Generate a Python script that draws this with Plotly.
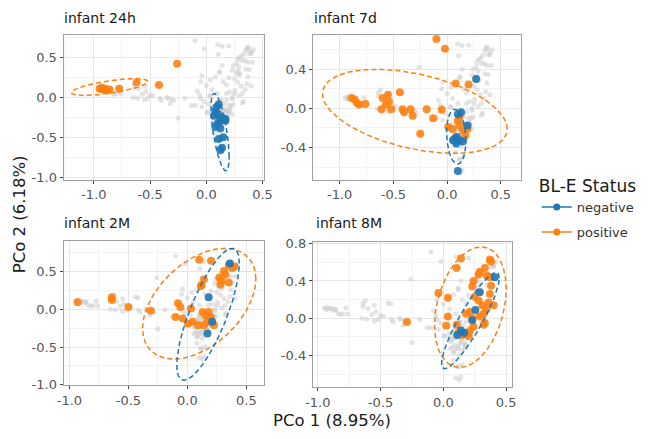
import numpy as np
import plotly.graph_objects as go

# ---------------- data ----------------
panel_names = ["infant 24h", "infant 7d", "infant 2M", "infant 8M"]

# infant 24h
neg_24h_x = [0.11, 0.08, 0.07, 0.105, 0.14, 0.17, 0.10, 0.08, 0.125, 0.11, 0.15, 0.14, 0.125, 0.17, 0.09, 0.12]
neg_24h_y = [-0.09, -0.17, -0.23, -0.21, -0.25, -0.29, -0.33, -0.37, -0.39, -0.52, -0.50, -0.63, -0.66, -0.27, -0.12, -0.30]
pos_24h_x = [-0.26, -0.42, -0.62, -0.775, -0.95, -0.92, -0.90, -0.88, -0.86, -0.93, 0.13]
pos_24h_y = [0.42, 0.155, 0.19, 0.11, 0.11, 0.10, 0.11, 0.09, 0.10, 0.12, -0.27]

# infant 7d
neg_7d_x = [0.27, 0.10, 0.13, 0.09, 0.07, 0.115, 0.085, 0.145, 0.19, 0.10, 0.055]
neg_7d_y = [0.30, -0.06, -0.04, -0.29, -0.31, -0.325, -0.36, -0.34, -0.175, -0.64, -0.325]
pos_7d_x = [-0.10, -0.02, 0.08, 0.20, -0.89, -0.86, -0.84, -0.82, -0.76, -0.60, -0.55, -0.54, -0.57, -0.61,
            -0.52, -0.44, -0.415, -0.40, -0.34, -0.32, -0.19, -0.13, -0.05, -0.25, 0.01, 0.05, 0.10, 0.115,
            0.145, 0.17, 0.19, 0.115]
pos_7d_y = [0.71, 0.61, 0.255, 0.245, 0.105, 0.09, 0.056, 0.04, 0.046, 0.105, 0.14, 0.07, 0.04, -0.01,
            -0.01, 0.165, -0.01, -0.04, -0.01, -0.075, -0.01, -0.10, -0.015, -0.26, -0.19, -0.21, -0.13, -0.175,
            -0.225, -0.275, -0.21, -0.09]

# infant 2M
neg_2m_x = [0.36, 0.18, 0.21, 0.17]
neg_2m_y = [0.61, 0.16, -0.165, -0.32]
pos_2m_x = [-0.93, -0.64, -0.64, -0.50, -0.31, -0.08, -0.06, -0.10, -0.04, 0.005, 0.045, 0.09, 0.03, 0.13,
            0.155, 0.18, 0.20, 0.17, 0.14, 0.225, 0.12, 0.14, 0.115, 0.10, 0.20, 0.27, 0.31, 0.29, 0.32,
            0.35, 0.38, 0.40, 0.28, 0.35]
pos_2m_y = [0.095, 0.16, 0.125, 0.03, -0.02, 0.08, 0.03, -0.10, -0.12, -0.19, -0.165, -0.21, 0.01, -0.035,
            -0.08, -0.035, -0.10, -0.165, -0.21, -0.21, 0.325, 0.40, 0.31, 0.66, 0.645, 0.42, 0.51, 0.38, 0.46,
            0.59, 0.55, 0.57, 0.33, 0.355]

# infant 8M
neg_8m_x = [0.41, 0.29, 0.14, 0.165, 0.23, 0.255, 0.11]
neg_8m_y = [0.44, 0.28, -0.13, -0.155, -0.02, 0.09, -0.18]
pos_8m_x = [-0.29, -0.04, 0.036, 0.106, 0.14, 0.036, 0.023, 0.106, 0.126, 0.15, 0.18, 0.20, 0.18, 0.21,
            0.23, 0.24, 0.24, 0.23, 0.25, 0.28, 0.31, 0.32, 0.29, 0.345, 0.33, 0.32, 0.29, 0.33, 0.28,
            0.345, 0.37, 0.37, 0.38, 0.38, 0.37, 0.36, 0.40, 0.21]
pos_8m_y = [-0.04, 0.27, 0.22, 0.54, 0.64, 0.02, -0.08, -0.07, -0.155, -0.18, -0.165, -0.19, 0.05, 0.07,
            0.0, -0.09, 0.40, 0.34, 0.23, 0.19, 0.14, 0.05, 0.02, 0.10, -0.05, -0.07, 0.50, 0.54, 0.47,
            0.46, 0.44, 0.63, 0.61, 0.35, 0.26, 0.17, 0.14, -0.14]

# other samples shown in grey behind every panel
extra_gray_x = [0.05, 0.10, 0.15, 0.00, -0.05, 0.25, 0.22, 0.30, 0.40, 0.42, -0.55,
                -0.48, -0.35, -0.65, -0.80, -0.02, 0.06, 0.18, 0.08, 0.12]
extra_gray_y = [0.10, 0.05, 0.20, 0.15, 0.20, 0.05, -0.10, 0.30, 0.55, 0.60, -0.03,
                0.02, 0.00, 0.00, 0.05, -0.05, -0.25, -0.30, -0.45, -0.52]

# 95% ellipse summaries (centre, half-extent x/y, correlation) per panel
ell_neg_cx = [0.122, 0.085, 0.175, 0.215]
ell_neg_cy = [-0.435, -0.29, -0.065, -0.025]
ell_neg_hx = [0.081, 0.09, 0.265, 0.23]
ell_neg_hy = [0.485, 0.28, 0.875, 0.515]
ell_neg_r = [-0.64, -0.15, 0.77, 0.89]

ell_pos_cx = [-0.86, -0.30, 0.10, 0.215]
ell_pos_cy = [0.13, -0.03, 0.075, 0.12]
ell_pos_hx = [0.34, 0.86, 0.48, 0.285]
ell_pos_hy = [0.105, 0.43, 0.735, 0.645]
ell_pos_r = [0.66, -0.42, 0.45, 0.30]

x_ticks = [-1.0, -0.5, 0.0, 0.5]
y_ticks = [[-1.0, -0.5, 0.0, 0.5], [-0.4, 0.0, 0.4], [-1.0, -0.5, 0.0, 0.5], [-0.4, 0.0, 0.4, 0.8]]

# ---------------- styling / layout ----------------
W, H = 650, 439
BLUE = "#1f77b4"
ORANGE = "#ff7f0e"
FONT = "DejaVu Sans"

# panel pixel boxes: left, right, top, bottom
boxes = [(57, 263, 30, 179), (313, 527, 30, 179), (57, 263, 242, 391), (313, 518, 243, 393)]
x_ranges = [[-1.27, 0.514], [-1.25, 0.69], [-1.05, 0.65], [-1.04, 0.55]]
y_ranges = [[-1.03, 0.78], [-0.73, 0.75], [-1.01, 0.91], [-0.74, 0.82]]
minor_y = [0.25, 0.2, 0.25, 0.2]

neg_x = [neg_24h_x, neg_7d_x, neg_2m_x, neg_8m_x]
neg_y = [neg_24h_y, neg_7d_y, neg_2m_y, neg_8m_y]
pos_x = [pos_24h_x, pos_7d_x, pos_2m_x, pos_8m_x]
pos_y = [pos_24h_y, pos_7d_y, pos_2m_y, pos_8m_y]

gray_x = sum(neg_x, []) + sum(pos_x, []) + extra_gray_x
gray_y = sum(neg_y, []) + sum(pos_y, []) + extra_gray_y


def ellipse(cx, cy, hx, hy, r, n=240):
    t = np.linspace(0, 2 * np.pi, n)
    return cx + hx * np.cos(t), cy + hy * (r * np.cos(t) + np.sqrt(1 - r * r) * np.sin(t))


def fmt(v):
    return f"{v:.1f}"


fig = go.Figure()
layout = {}
for i in range(4):
    xa = "x" if i == 0 else f"x{i + 1}"
    ya = "y" if i == 0 else f"y{i + 1}"
    xk = "xaxis" if i == 0 else f"xaxis{i + 1}"
    yk = "yaxis" if i == 0 else f"yaxis{i + 1}"
    l, r_, t, b = boxes[i]

    fig.add_trace(go.Scatter(x=gray_x, y=gray_y, mode="markers", xaxis=xa, yaxis=ya, showlegend=False,
                             marker=dict(size=5, color="rgba(205,205,205,0.55)"), hoverinfo="skip"))
    fig.add_trace(go.Scatter(x=pos_x[i], y=pos_y[i], mode="markers", xaxis=xa, yaxis=ya, showlegend=False,
                             marker=dict(size=8, color=ORANGE, opacity=0.88)))
    fig.add_trace(go.Scatter(x=neg_x[i], y=neg_y[i], mode="markers", xaxis=xa, yaxis=ya, showlegend=False,
                             marker=dict(size=8, color=BLUE, opacity=0.9)))
    ex, ey = ellipse(ell_pos_cx[i], ell_pos_cy[i], ell_pos_hx[i], ell_pos_hy[i], ell_pos_r[i])
    fig.add_trace(go.Scatter(x=ex, y=ey, mode="lines", xaxis=xa, yaxis=ya, showlegend=False,
                             line=dict(color=ORANGE, width=1.5, dash="5px,3px"), hoverinfo="skip"))
    ex, ey = ellipse(ell_neg_cx[i], ell_neg_cy[i], ell_neg_hx[i], ell_neg_hy[i], ell_neg_r[i])
    fig.add_trace(go.Scatter(x=ex, y=ey, mode="lines", xaxis=xa, yaxis=ya, showlegend=False,
                             line=dict(color=BLUE, width=1.5, dash="5px,3px"), hoverinfo="skip"))

    common = dict(showgrid=True, gridcolor="#e6e6e6", gridwidth=1, zeroline=False,
                  showline=True, mirror=True, linecolor="#a0a0a0", linewidth=1,
                  ticks="outside", ticklen=3, tickcolor="#444444",
                  tickfont=dict(family=FONT, size=13, color="#555555"))
    layout[xk] = dict(common, domain=[l / W, r_ / W], range=x_ranges[i], anchor=ya,
                      tickmode="array", tickvals=x_ticks, ticktext=[fmt(v) for v in x_ticks],
                      minor=dict(showgrid=True, gridcolor="#f3f3f3", dtick=0.25, tick0=0))
    layout[yk] = dict(common, domain=[1 - b / H, 1 - t / H], range=y_ranges[i], anchor=xa,
                      tickmode="array", tickvals=y_ticks[i], ticktext=[fmt(v) for v in y_ticks[i]],
                      minor=dict(showgrid=True, gridcolor="#f3f3f3", dtick=minor_y[i], tick0=0))

# legend-only traces
fig.add_trace(go.Scatter(x=[None], y=[None], mode="lines+markers", name="negative", legendgroup="neg",
                         line=dict(color=BLUE, width=1.5), marker=dict(size=7, color=BLUE)))
fig.add_trace(go.Scatter(x=[None], y=[None], mode="lines+markers", name="positive", legendgroup="pos",
                         line=dict(color=ORANGE, width=1.5), marker=dict(size=7, color=ORANGE)))

title_pos = [(55, 12), (312, 12), (55, 224), (314, 224)]
annotations = []
for (px, py), name in zip(title_pos, panel_names):
    annotations.append(dict(text=name, x=px / W, y=1 - py / H, xref="paper", yref="paper",
                            xanchor="left", yanchor="middle", showarrow=False,
                            font=dict(family=FONT, size=14, color="#1a1a1a")))
annotations.append(dict(text="PCo 1 (8.95%)", x=333 / W, y=1 - 427 / H, xref="paper", yref="paper",
                        xanchor="center", yanchor="middle", showarrow=False,
                        font=dict(family=FONT, size=16.5, color="#1a1a1a")))
annotations.append(dict(text="PCo 2 (6.18%)", x=12 / W, y=1 - 215 / H, xref="paper", yref="paper",
                        xanchor="center", yanchor="middle", showarrow=False, textangle=-90,
                        font=dict(family=FONT, size=16.5, color="#1a1a1a")))

fig.update_layout(
    width=W, height=H, margin=dict(l=0, r=0, t=0, b=0),
    paper_bgcolor="white", plot_bgcolor="white",
    annotations=annotations,
    legend=dict(x=543 / W, y=1 - 169 / H, xanchor="left", yanchor="top",
                title=dict(text="BL-E Status", font=dict(family=FONT, size=17, color="#1a1a1a")),
                font=dict(family=FONT, size=13, color="#333333"), bgcolor="rgba(0,0,0,0)",
                itemwidth=30, tracegroupgap=5),
    **layout,
)

fig.write_html("out.html")
